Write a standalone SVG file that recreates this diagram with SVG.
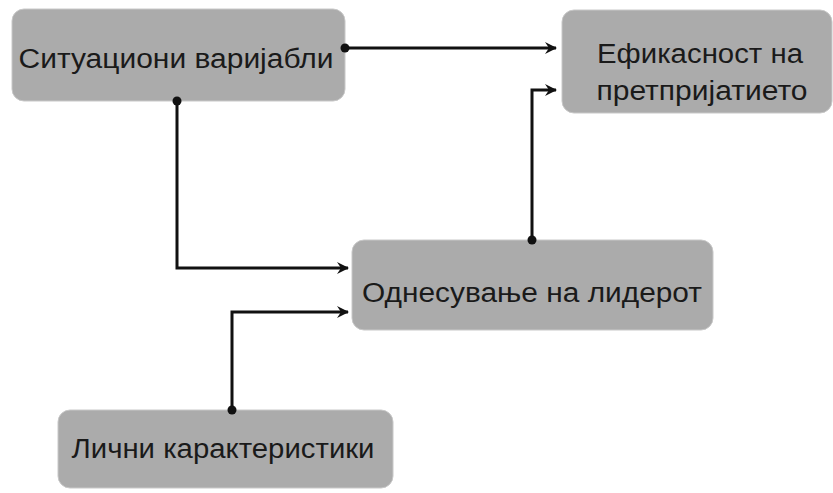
<svg xmlns="http://www.w3.org/2000/svg" width="833" height="493" viewBox="0 0 833 493">
<style>
.box{fill:#ababab;stroke:#c8c8c8;stroke-width:1}
.lbl{font-family:"Liberation Sans",Arial,sans-serif;font-size:27px;fill:#1a1a1a;text-anchor:middle}
.con{fill:none;stroke:#111;stroke-width:3}
.dot{fill:#111}
</style>
<defs>
<marker id="arr" markerWidth="14" markerHeight="14" refX="12" refY="7" orient="auto" markerUnits="userSpaceOnUse">
<path d="M1,1 L13,7 L1,13 L5,7 Z" fill="#111"/>
</marker>
</defs>
<rect width="833" height="493" fill="#fff"/>
<g id="node-situational">
<rect class="box" x="12" y="9" width="333" height="92" rx="12"/>
<text class="lbl" x="176" y="68" textLength="315" lengthAdjust="spacingAndGlyphs">Ситуациони варијабли</text>
</g>
<g id="node-efficiency">
<rect class="box" x="562" y="10" width="270" height="103" rx="12"/>
<text class="lbl" x="700" y="63" textLength="206" lengthAdjust="spacingAndGlyphs">Ефикасност на</text>
<text class="lbl" x="702" y="100" textLength="211" lengthAdjust="spacingAndGlyphs">претпријатието</text>
</g>
<g id="node-behavior">
<rect class="box" x="352" y="240" width="361" height="90" rx="12"/>
<text class="lbl" x="532" y="302" textLength="340" lengthAdjust="spacingAndGlyphs">Однесување на лидерот</text>
</g>
<g id="node-personal">
<rect class="box" x="58" y="410" width="335" height="78" rx="12"/>
<text class="lbl" x="223" y="458" textLength="303" lengthAdjust="spacingAndGlyphs">Лични карактеристики</text>
</g>
<g id="connectors">
<path class="con" d="M345,48 H556" marker-end="url(#arr)"/>
<circle class="dot" cx="345" cy="48" r="4.5"/>
<path class="con" d="M532,240 V90 H556" marker-end="url(#arr)"/>
<circle class="dot" cx="532" cy="240" r="4.5"/>
<path class="con" d="M177,101 V268 H348" marker-end="url(#arr)"/>
<circle class="dot" cx="177" cy="101" r="4.5"/>
<path class="con" d="M232,410 V312 H348" marker-end="url(#arr)"/>
<circle class="dot" cx="232" cy="410" r="4.5"/>
</g>
</svg>
